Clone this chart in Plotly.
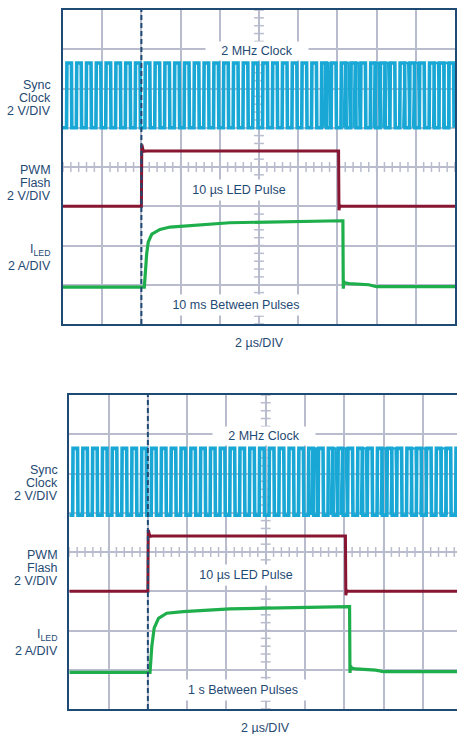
import plotly.graph_objects as go

W, H = 457, 734

# ---------------- data (time in µs, amplitude in divisions, 0..8) ----------------
clock1_rise_us = [0.18, 0.68, 1.18, 1.68, 2.18, 2.68, 3.18, 3.68, 4.18, 4.68,
                  5.18, 5.68, 6.18, 6.68, 7.18, 7.68, 8.18, 8.68, 9.18, 9.68,
                  10.18, 10.68, 11.18, 11.68, 12.18, 12.68, 13.18, 13.68, 14.18, 14.68,
                  15.18, 15.68, 16.18, 16.68, 17.18, 17.68, 18.18, 18.68, 19.18, 19.68]
clock2_rise_us = [0.17, 0.67, 1.17, 1.67, 2.17, 2.67, 3.17, 3.67, 4.17, 4.67,
                  5.17, 5.67, 6.17, 6.67, 7.17, 7.67, 8.17, 8.67, 9.17, 9.67,
                  10.17, 10.67, 11.17, 11.67, 12.17, 12.67, 13.17, 13.67, 14.17, 14.67,
                  15.17, 15.67, 16.17, 16.67, 17.17, 17.67, 18.17, 18.67, 19.17, 19.67]
# second (jittered) sweep seen overlaid on the right half of each screen
clock1_jitter_rise_us = [13.30, 14.32, 14.82, 15.84, 16.34, 17.36, 17.86, 18.88, 19.40]
clock2_jitter_rise_us = [12.30, 13.31, 13.82, 14.84, 15.85, 16.36, 17.38, 17.88, 18.90]
clock_high_us = 0.25
clock_edge_us = 0.02
clock_jitter_edge_us = 0.07
clock1_levels = [5.00, 6.65]
clock2_levels = [4.94, 6.64]

pwm1_t = [0, 4.00, 4.02, 4.05, 4.10, 4.25, 14.06, 14.08, 14.12, 14.20, 20]
pwm1_v = [3.00, 3.00, 4.57, 4.45, 4.40, 4.41, 4.41, 2.90, 3.02, 3.00, 3.00]
pwm2_t = [0, 4.00, 4.02, 4.05, 4.10, 4.25, 14.06, 14.08, 14.12, 14.20, 19.74]
pwm2_v = [3.00, 3.00, 4.56, 4.45, 4.40, 4.41, 4.41, 2.90, 3.02, 3.00, 3.00]

iled1_t = [0, 4.12, 4.15, 4.27, 4.35, 4.53, 4.95, 5.46, 8.50, 14.20, 14.28,
           14.30, 14.33, 14.38, 14.60, 15.60, 16.00, 20]
iled1_v = [0.94, 0.94, 0.94, 1.79, 2.09, 2.29, 2.41, 2.47, 2.58, 2.63, 2.63,
           0.90, 1.08, 1.05, 1.03, 1.00, 0.95, 0.95]
iled2_t = [0, 4.08, 4.11, 4.20, 4.32, 4.54, 4.96, 5.80, 8.18, 14.20, 14.27,
           14.29, 14.32, 14.37, 14.60, 15.60, 16.00, 19.74]
iled2_v = [0.935, 0.935, 0.935, 1.59, 2.06, 2.31, 2.44, 2.48, 2.55, 2.61, 2.61,
           0.92, 1.10, 1.04, 1.02, 0.99, 0.95, 0.95]

trigger_us = 4.0
x_ranges = [[0, 20], [0, 19.74]]
channel_labels = [["Sync", "Clock", "2 V/DIV"], ["PWM", "Flash", "2 V/DIV"], ["I<sub>LED</sub>", "2 A/DIV"]]
channel_label_y = [[6.09, 5.75, 5.43], [3.92, 3.58, 3.25], [1.88, 1.47]]
clock_note = "2 MHz Clock"
pulse_note = "10 µs LED Pulse"
gap_notes = ["10 ms Between Pulses", "1 s Between Pulses"]
time_div = "2 µs/DIV"

# ---------------- style ----------------
CLK = "#19A8D5"
PWM = "#861631"
LED = "#1FAE4C"
NAVY = "#1F4A73"
GRID = "#B9BCCD"
FONT = "Liberation Sans, Arial, sans-serif"


def square_wave(rises, levels, edge, start=True):
    lo, hi = levels
    xs, ys = ([0], [lo]) if start else ([], [])
    for r in rises:
        xs += [r, r + edge, r + clock_high_us, r + clock_high_us + edge]
        ys += [lo, hi, hi, lo]
    return xs, ys


fig = go.Figure()

panels = [
    dict(xd=[63 / W, 455 / W], yd=[1 - 324 / H, 1 - 10 / H], rises=clock1_rise_us,
         jr=clock1_jitter_rise_us, lv=clock1_levels,
         pt=pwm1_t, pv=pwm1_v, it=iled1_t, iv=iled1_v, mirror_y=True, labx=-9.7 / 392),
    dict(xd=[69.3 / W, 1.0], yd=[1 - 709 / H, 1 - 395 / H], rises=clock2_rise_us,
         jr=clock2_jitter_rise_us, lv=clock2_levels,
         pt=pwm2_t, pv=pwm2_v, it=iled2_t, iv=iled2_v, mirror_y=False, labx=-9.3 / 393),
]

for i, p in enumerate(panels):
    n = "" if i == 0 else str(i + 1)
    xa, ya = "x" + n, "y" + n
    xr = x_ranges[i]
    # center-axis minor ticks
    tx = [k * 0.4 for k in range(0, 51) if k * 0.4 <= xr[1]]
    fig.add_trace(go.Scatter(x=tx, y=[4] * len(tx), mode="markers", xaxis=xa, yaxis=ya,
                             marker=dict(symbol="line-ns", size=7, line=dict(color=GRID, width=1.5)),
                             hoverinfo="skip", showlegend=False))
    ty = [k * 0.2 for k in range(0, 41)]
    fig.add_trace(go.Scatter(x=[10] * len(ty), y=ty, mode="markers", xaxis=xa, yaxis=ya,
                             marker=dict(symbol="line-ew", size=7, line=dict(color=GRID, width=1.5)),
                             hoverinfo="skip", showlegend=False))
    cx, cy = square_wave(p["rises"], p["lv"], clock_edge_us)
    fig.add_trace(go.Scatter(x=cx, y=cy, mode="lines", xaxis=xa, yaxis=ya,
                             line=dict(color=CLK, width=3.6), showlegend=False))
    jx, jy = [], []
    for r in p["jr"]:
        wx, wy = square_wave([r], p["lv"], clock_jitter_edge_us, start=False)
        jx += wx + [None]
        jy += wy + [None]
    fig.add_trace(go.Scatter(x=jx, y=jy, mode="lines", xaxis=xa, yaxis=ya,
                             line=dict(color=CLK, width=2.4), showlegend=False))
    fig.add_trace(go.Scatter(x=p["pt"], y=p["pv"], mode="lines", xaxis=xa, yaxis=ya,
                             line=dict(color=PWM, width=3.0), showlegend=False))
    fig.add_trace(go.Scatter(x=p["it"], y=p["iv"], mode="lines", xaxis=xa, yaxis=ya,
                             line=dict(color=LED, width=3.2), showlegend=False))

    axcommon = dict(showgrid=True, gridcolor=GRID, gridwidth=1.5, zeroline=False,
                    showticklabels=False, ticks="", showline=True, linecolor=NAVY, linewidth=2)
    fig.update_layout(**{
        "xaxis" + n: dict(domain=p["xd"], range=xr, dtick=2, tick0=0, mirror=True,
                          anchor=ya, **axcommon),
        "yaxis" + n: dict(domain=p["yd"], range=[0, 8], dtick=1, tick0=0, mirror=p["mirror_y"],
                          anchor=xa, **axcommon),
    })

    fig.add_shape(type="line", x0=trigger_us, x1=trigger_us, y0=0, y1=8, xref=xa, yref=ya,
                  line=dict(color=NAVY, width=2, dash="5px,3px"))

    tf = dict(family=FONT, size=12.5, color=NAVY)
    for lines, ys in zip(channel_labels, channel_label_y):
        for t, yy in zip(lines, ys):
            fig.add_annotation(text=t, x=p["labx"], xref=xa + " domain", y=yy, yref=ya,
                               xanchor="right", yanchor="middle", showarrow=False, font=tf)
    fig.add_annotation(text=clock_note, x=9.9, xref=xa, y=6.96, yref=ya, showarrow=False,
                       font=tf, bgcolor="white", width=100, height=16)
    fig.add_annotation(text=pulse_note, x=9.0, xref=xa, y=3.41, yref=ya, showarrow=False,
                       font=tf, bgcolor="white", width=106, height=18)
    fig.add_annotation(text=gap_notes[i], x=8.82, xref=xa, y=0.48, yref=ya, showarrow=False,
                       font=tf, bgcolor="white", width=len(gap_notes[i]) * 7.0 + 6, height=18)
    fig.add_annotation(text=time_div, x=10, xref=xa, y=-(18.5 / 314), yref=ya + " domain",
                       showarrow=False, font=tf, yanchor="middle")

fig.update_layout(width=W, height=H, margin=dict(l=0, r=0, t=0, b=0),
                  paper_bgcolor="white", plot_bgcolor="white", showlegend=False)

fig.write_html("out.html")
